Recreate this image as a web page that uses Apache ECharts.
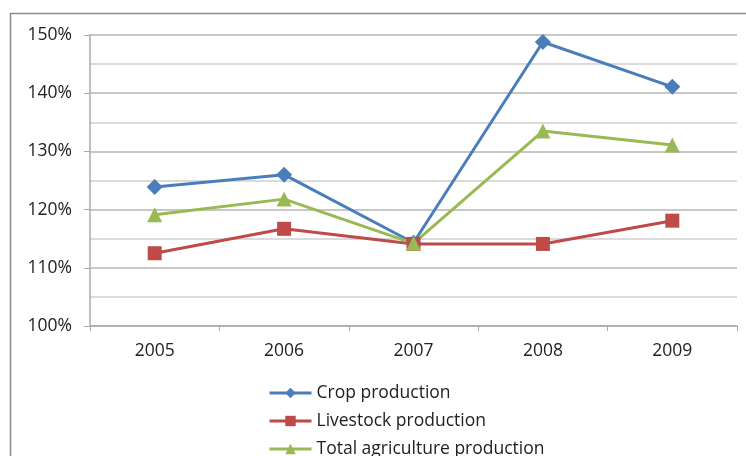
<!DOCTYPE html>
<html>
<head>
<meta charset="utf-8">
<script src="https://cdn.jsdelivr.net/npm/echarts@6/dist/echarts.min.js"></script>
<style>
  html, body { margin: 0; padding: 0; background: #fff; }
  #chart { width: 746px; height: 456px; }
</style>
</head>
<body>
<div id="chart"></div>
<script>
// Production index by year, in percent
const years = ['2005', '2006', '2007', '2008', '2009'];
const cropProduction = [123.9, 126.0, 114.3, 148.8, 141.1];
const livestockProduction = [112.5, 116.7, 114.1, 114.1, 118.1];
const totalAgricultureProduction = [119.1, 121.8, 114.2, 133.5, 131.1];
const yTicks = { min: 100, max: 150, step: 10 };

const chart = echarts.init(document.getElementById('chart'));
const font = '"Open Sans", "Liberation Sans", sans-serif';

function lineSeries(name, data, color, symbol, size) {
  return {
    name: name,
    type: 'line',
    data: data,
    symbol: symbol,
    symbolSize: size,
    showAllSymbol: true,
    lineStyle: { color: color, width: 3 },
    itemStyle: { color: color, borderWidth: 0 },
    emphasis: { disabled: true },
    animation: false
  };
}

chart.setOption({
  animation: false,
  graphic: [{
    type: 'rect',
    shape: { x: 10.5, y: 13.5, width: 800, height: 500 },
    style: { fill: 'none', stroke: '#8c8c8c', lineWidth: 1.5 },
    silent: true
  }],
  grid: { left: 90, right: 9, top: 35, bottom: 130 },
  legend: {
    orient: 'vertical',
    left: 263,
    top: 379,
    height: 120,
    itemGap: 10,
    itemWidth: 42,
    itemHeight: 13,
    itemGap: 10,
    lineStyle: { width: 3 },
    textStyle: { fontFamily: font, fontSize: 17.5, color: '#222' },
    data: ['Crop production', 'Livestock production', 'Total agriculture production']
  },
  xAxis: {
    type: 'category',
    data: years,
    boundaryGap: true,
    axisLine: { lineStyle: { color: '#aaaaaa', width: 1.5 } },
    axisTick: { show: true, length: 5, lineStyle: { color: '#aaaaaa' } },
    axisLabel: { fontFamily: font, fontSize: 17.5, color: '#222', margin: 16 }
  },
  yAxis: {
    type: 'value',
    min: yTicks.min,
    max: yTicks.max,
    interval: yTicks.step,
    axisLine: { show: true, lineStyle: { color: '#aaaaaa', width: 1.5 } },
    axisTick: { show: true, length: 6, lineStyle: { color: '#aaaaaa' } },
    axisLabel: { fontFamily: font, fontSize: 17.5, color: '#222', margin: 18, formatter: '{value}%' },
    splitLine: { show: true, lineStyle: { color: '#b4b4b4', width: 1.5 } },
    minorTick: { show: false, splitNumber: 2 },
    minorSplitLine: { show: true, lineStyle: { color: '#cfcfcf', width: 1.5 } }
  },
  series: [
    lineSeries('Crop production', cropProduction, '#4a7ebb', 'diamond', 16),
    lineSeries('Livestock production', livestockProduction, '#be4b48', 'rect', 14),
    lineSeries('Total agriculture production', totalAgricultureProduction, '#98b954', 'triangle', 15)
  ]
});
</script>
</body>
</html>
